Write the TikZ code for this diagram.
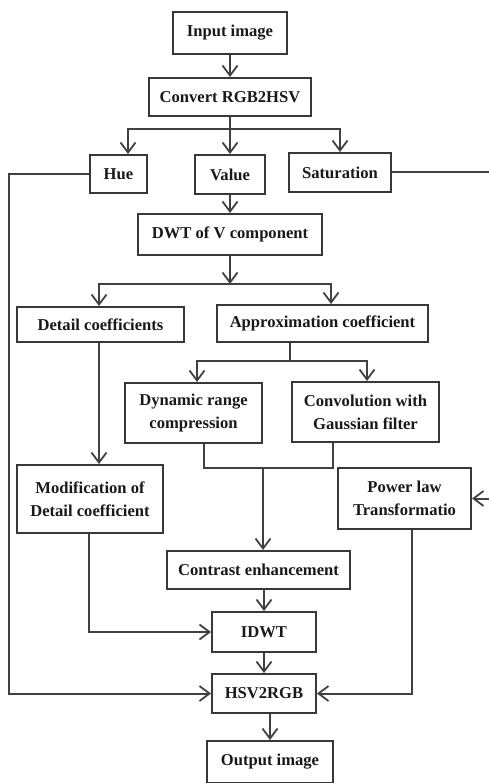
\documentclass[tikz,border=0pt]{standalone}
\usepackage{fontspec}
\setmainfont{Liberation Serif}
\usetikzlibrary{arrows.meta,calc}
\begin{document}
\begin{tikzpicture}[x=1pt,y=-1pt,
  box/.style={draw=black!78,line width=2pt,rectangle,inner sep=0pt,
    font=\fontsize{16.6}{23}\selectfont\bfseries,text=black!90,align=center},
  conn/.style={draw=black!75,line width=2pt},
  arr/.style={conn,-{Straight Barb[length=10pt,width=15pt,line width=1.8pt]}}]
\useasboundingbox (0,0) rectangle (489,783);
\node[box,minimum width=114pt,minimum height=42pt] (input) at (230,33) {Input image};
\node[box,minimum width=162pt,minimum height=38pt] (convert) at (230,97) {Convert RGB2HSV};
\node[box,minimum width=57pt,minimum height=38pt] (hue) at (118.5,174) {Hue};
\node[box,minimum width=70pt,minimum height=39pt] (value) at (230,174.5) {Value};
\node[box,minimum width=102pt,minimum height=39pt] (sat) at (340,172.5) {Saturation};
\node[box,minimum width=184pt,minimum height=41pt] (dwt) at (230,234.5) {DWT of V component};
\node[box,minimum width=167pt,minimum height=35pt] (detail) at (100.5,324.5) {Detail coefficients};
\node[box,minimum width=211pt,minimum height=37pt] (approx) at (322.5,323.5) {Approximation coefficient};
\node[box,minimum width=137pt,minimum height=60pt] (dyn) at (193.5,413) {Dynamic range\\compression};
\node[box,minimum width=147pt,minimum height=60pt] (conv) at (365.5,412) {Convolution with\\Gaussian filter};
\node[box,minimum width=146pt,minimum height=68pt] (modif) at (90,499) {Modification of\\Detail coefficient};
\node[box,minimum width=133pt,minimum height=61pt] (power) at (404.5,498.5) {Power law\\Transformatio};
\node[box,minimum width=183pt,minimum height=38pt] (contrast) at (258.5,570) {Contrast enhancement};
\node[box,minimum width=104pt,minimum height=40pt] (idwt) at (264,632) {IDWT};
\node[box,minimum width=104pt,minimum height=39pt] (hsv) at (264,693.5) {HSV2RGB};
\node[box,minimum width=126pt,minimum height=42pt] (output) at (270,762) {Output image};

\coordinate (j1) at (230,129);
\coordinate (j2) at (230,284);
\coordinate (j3) at (290,361);
\coordinate (j4) at (263,468);

\draw[arr] (input) -- (convert);
\draw[conn] (convert.south) -- (j1);
\draw[conn] ([xshift=9.5pt]hue.north |- j1) -- (sat.north |- j1);
\draw[arr] (j1) -| ([xshift=9.5pt]hue.north);
\draw[arr] (j1) -- (value.north);
\draw[arr] (j1) -| (sat.north);
\draw[arr] (value) -- (dwt);
\draw[arr] (dwt.south) -- (j2);
\draw[conn] ([xshift=-1.5pt]detail.north |- j2) -- ([xshift=8.5pt]approx.north |- j2);
\draw[arr] (j2) -| ([xshift=-1.5pt]detail.north);
\draw[arr] (j2) -| ([xshift=8.5pt]approx.north);
\draw[conn] (approx.south -| j3) -- (j3);
\draw[conn] ([xshift=3.5pt]dyn.north |- j3) -- ([xshift=1.5pt]conv.north |- j3);
\draw[arr] (j3) -| ([xshift=3.5pt]dyn.north);
\draw[arr] (j3) -| ([xshift=1.5pt]conv.north);
\draw[conn] ([xshift=10.5pt]dyn.south) |- (j4) -| ([xshift=-32.5pt]conv.south);
\draw[arr] (j4) -- (contrast.north -| j4);
\draw[arr] ([xshift=-1.5pt]detail.south) -- ([xshift=-1.5pt]detail.south |- modif.north);
\draw[arr] ([xshift=-1pt]modif.south) |- (idwt.west);
\draw[arr] (contrast.south -| idwt) -- (idwt.north);
\draw[arr] (idwt) -- (hsv);
\draw[arr] (hue.west) -| (9,693.5) -- (hsv.west);
\draw[arr] (sat.east) -| (496,498.5) -- (power.east);
\draw[arr] ([xshift=7.5pt]power.south) |- (hsv.east);
\draw[arr] (hsv.south -| output) -- (output.north);
\end{tikzpicture}
\end{document}
